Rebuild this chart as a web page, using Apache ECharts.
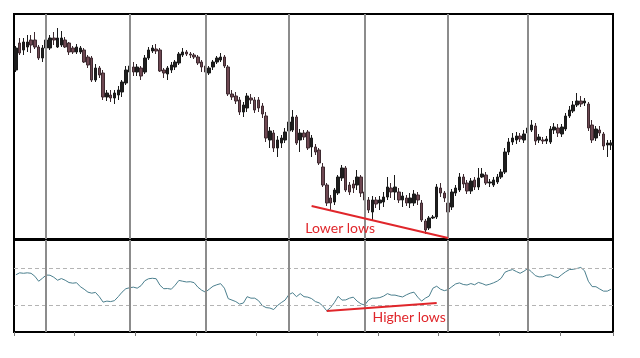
<!DOCTYPE html>
<html>
<head>
<meta charset="utf-8">
<script src="https://cdn.jsdelivr.net/npm/echarts@6/dist/echarts.min.js"></script>
<style>html,body{margin:0;padding:0;background:#fff}#c{width:640px;height:358px}</style>
</head>
<body>
<div id="c"></div>
<script>
// Price bars (arbitrary price units), one entry per bar
const opens = [169,196,189,192,199,199,192,181,191,191,
201,192,194,199,196,191,187,187,189,182,
181,159,171,166,142,144,141,144,147,156,
167,172,167,171,167,181,188,190,189,169,
165,169,172,176,184,187,185,184,182,177,
173,166,172,177,179,182,172,145,143,139,
127,131,141,139,139,133,123,99,106,91,
96,99,108,109,122,99,106,107,92,92,
89,72,54,41,37,46,61,71,54,55,
54,62,47,39,27,39,36,37,42,51,
47,47,39,41,36,36,44,36,18,11,
21,22,51,46,36,32,46,49,62,56,
48,59,52,62,64,56,54,57,62,67,
87,97,99,103,99,106,109,113,99,99,
98,97,109,111,105,110,123,128,134,138,
136,135,114,101,109,105,94,94];
const closes = [191,186,197,197,194,192,181,191,199,201,
199,201,201,192,187,187,192,191,177,174,
159,171,164,142,146,141,146,149,157,169,
173,167,172,163,181,189,191,188,168,166,
171,174,177,185,187,185,184,182,176,172,
167,171,177,181,182,173,145,142,138,127,
134,143,139,129,131,125,101,108,91,99,
101,107,117,122,96,106,102,91,101,87,
76,54,36,36,49,62,71,49,47,51,
62,46,39,29,39,35,39,42,52,47,
52,39,43,36,41,45,39,19,9,21,
22,52,46,41,27,47,51,62,55,48,
58,52,61,65,56,57,59,62,67,87,
97,101,103,100,105,111,114,98,102,98,
100,110,112,106,112,123,129,134,138,135,
138,111,99,110,106,93,96,96];
const lows = [167,184,184,187,186,190,179,177,189,189,
194,191,192,191,184,185,185,185,176,171,
157,157,161,139,138,137,135,139,142,154,
161,163,163,159,165,179,186,185,167,161,
159,166,169,174,182,183,181,180,174,167,
161,164,169,175,177,171,143,139,135,124,
122,127,135,126,127,121,97,91,87,82,
91,96,104,107,94,87,99,89,82,84,
74,52,33,28,34,44,58,47,44,46,
49,42,36,26,19,31,29,32,39,41,
39,36,32,33,31,33,34,17,5,9,
20,20,42,37,13,29,43,47,51,45,
45,49,49,61,54,52,52,55,60,65,
84,94,95,97,96,103,107,94,96,95,
95,95,105,102,102,108,121,126,132,132,
133,108,96,98,103,89,82,89];
const highs = [193,201,201,204,204,207,194,194,203,204,
207,211,208,202,197,193,195,193,191,184,
183,175,173,169,149,149,149,153,159,173,
179,177,175,173,184,192,194,195,191,171,
173,177,179,187,191,189,187,186,184,179,
175,173,179,183,186,184,174,149,147,142,
137,146,145,142,142,136,127,112,109,103,
104,111,122,129,124,110,109,109,104,95,
91,76,56,44,51,64,74,73,57,59,
69,64,51,42,43,42,43,47,62,56,
64,51,47,44,46,49,47,39,20,23,
24,55,56,48,39,50,54,66,65,59,
61,62,71,71,67,60,62,65,70,91,
101,106,107,106,109,115,119,116,105,102,
103,113,116,115,115,126,133,138,146,143,
141,137,119,113,113,107,99,99];
// Oscillator (0-100)
const rsiValues = [62.9,65.0,64.5,65.0,64.5,61.3,55.9,59.1,62.6,62.4,
60.2,57.0,58.8,57.0,54.5,53.8,54.3,50.0,47.3,44.1,
43.0,43.8,39.2,33.3,34.4,33.9,34.9,39.2,44.1,47.8,
48.9,49.5,48.4,51.1,56.4,58.6,59.1,58.6,51.6,47.8,
48.0,47.3,51.6,56.8,55.9,55.1,55.4,54.4,49.5,46.2,
44.1,47.3,50.5,52.1,53.3,48.4,37.1,35.5,33.9,31.2,
32.3,39.2,37.6,37.6,34.9,29.6,27.4,26.9,25.3,29.6,
32.8,35.5,41.4,43.5,39.2,42.5,39.2,38.7,37.1,33.9,
32.5,29.0,23.9,27.4,32.8,39.6,35.5,35.7,37.6,38.7,
34.4,31.5,30.1,35.5,37.6,37.6,38.2,39.8,42.5,40.9,
40.9,39.8,38.9,41.2,43.0,44.1,38.7,34.4,37.6,39.8,
48.4,50.5,47.3,45.7,46.8,50.0,53.0,54.1,52.4,51.8,
53.4,52.1,54.6,53.4,51.6,52.7,54.2,56.1,59.1,65.6,
67.4,68.5,66.4,64.5,66.7,69.6,66.1,62.0,60.6,60.7,
62.4,62.9,60.7,59.7,63.1,66.1,68.5,68.8,69.7,70.8,
67.2,55.9,50.1,50.0,47.5,45.2,45.2,47.3];
// Session separators (bar index)
const separators = [8, 30, 50, 72, 92, 114, 135];
// Oscillator levels
const levels = [30, 70];
// Trend annotations: [barIndex, value]
const priceLowsLine = [[78, 33], [114, 1]];
const rsiLowsLine = [[82, 23.7], [111, 32.4]];
const priceLabel = {text: 'Lower lows', at: [85, 11]};
const rsiLabel = {text: 'Higher lows', at: [104, 17.2]};

const categories = opens.map((_, i) => 'Bar ' + (i + 1));
const candleData = opens.map((o, i) => [o, closes[i], lows[i], highs[i]]);

const RED = '#e0262b';
const sepStyle = {color: '#8c8c8c', width: 2, type: 'solid'};

const chart = echarts.init(document.getElementById('c'), null, {renderer: 'canvas'});
chart.setOption({
  animation: false,
  backgroundColor: '#ffffff',
  grid: [
    {left: 14, top: 14, width: 599, height: 225, show: true, borderColor: '#000', borderWidth: 2, backgroundColor: 'transparent'},
    {left: 14, top: 240, width: 599, height: 92, show: true, borderColor: '#000', borderWidth: 2, backgroundColor: 'transparent'}
  ],
  xAxis: [
    {type: 'category', data: categories, gridIndex: 0, axisLine: {show: false}, axisTick: {show: false}, axisLabel: {show: false}, splitLine: {show: false}},
    {type: 'category', data: categories, gridIndex: 1, axisLine: {show: true, lineStyle: {color: '#000', width: 2}},
     axisTick: {show: true, interval: 15, length: 4, lineStyle: {color: '#777', width: 1}}, axisLabel: {show: false}, splitLine: {show: false}}
  ],
  yAxis: [
    {type: 'value', gridIndex: 0, min: 0, max: 225, show: false},
    {type: 'value', gridIndex: 1, min: 1, max: 100.5, show: false}
  ],
  series: [
    {
      type: 'candlestick', xAxisIndex: 0, yAxisIndex: 0, data: candleData, barWidth: 3,
      itemStyle: {color: '#1e1e1e', color0: '#6e4852', borderColor: '#1a1a1a', borderColor0: '#3e2a30', borderWidth: 1},
      markLine: {
        silent: true, symbol: ['none', 'none'], label: {show: false}, animation: false,
        data: separators.map(s => ({xAxis: s, lineStyle: sepStyle})).concat([
          [{coord: priceLowsLine[0], lineStyle: {color: RED, width: 2, type: 'solid'}}, {coord: priceLowsLine[1]}]
        ])
      },
      markPoint: {
        silent: true, animation: false,
        data: [{coord: priceLabel.at, symbol: 'circle', symbolSize: 1, itemStyle: {color: 'rgba(0,0,0,0)'},
          label: {show: true, position: 'inside', formatter: priceLabel.text, color: RED, fontSize: 14, fontFamily: 'Lato', offset: [2, 0]}}]
      }
    },
    {
      type: 'line', xAxisIndex: 1, yAxisIndex: 1, data: rsiValues, showSymbol: false, symbol: 'none',
      lineStyle: {color: '#4b7f8e', width: 1}, z: 3,
      markLine: {
        silent: true, symbol: ['none', 'none'], label: {show: false}, animation: false,
        data: levels.map(v => ({yAxis: v, lineStyle: {color: '#b4b4b4', width: 1, type: [4, 3]}}))
          .concat(separators.map(s => ({xAxis: s, lineStyle: sepStyle})))
          .concat([[{coord: rsiLowsLine[0], lineStyle: {color: RED, width: 2, type: 'solid'}}, {coord: rsiLowsLine[1]}]])
      },
      markPoint: {
        silent: true, animation: false,
        data: [{coord: rsiLabel.at, symbol: 'circle', symbolSize: 1, itemStyle: {color: 'rgba(0,0,0,0)'},
          label: {show: true, position: 'inside', formatter: rsiLabel.text, color: RED, fontSize: 14, fontFamily: 'Lato', offset: [-1, 0]}}]
      }
    }
  ]
});
</script>
</body>
</html>
